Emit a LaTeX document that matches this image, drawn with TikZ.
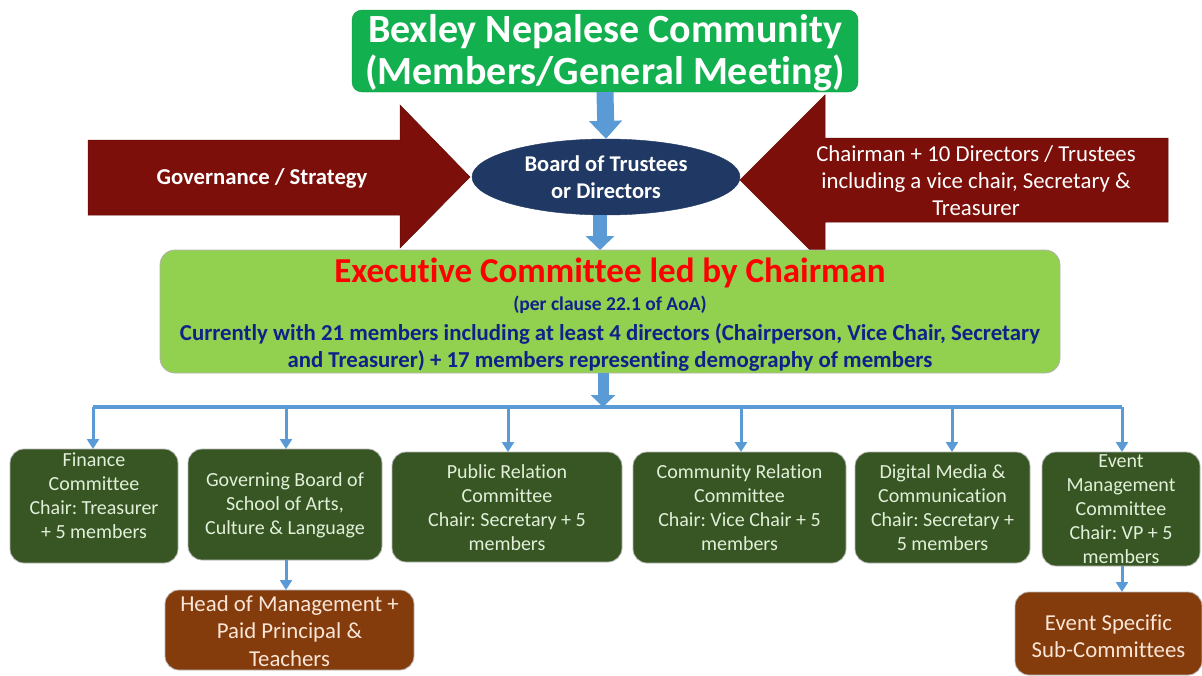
\documentclass[tikz,border=0pt]{standalone}
\usepackage{fontspec}
\setmainfont[Ligatures=NoCommon]{Carlito}
\frenchspacing
\usetikzlibrary{arrows.meta,shapes.geometric}
\definecolor{topgreen}{HTML}{12B04F}
\definecolor{navy}{HTML}{1F3864}
\definecolor{dkred}{HTML}{7C0F0A}
\definecolor{ltgreen}{HTML}{92D050}
\definecolor{dkgreen}{HTML}{375623}
\definecolor{brownbox}{HTML}{843C0C}
\definecolor{arrowblue}{HTML}{5B9BD5}
\definecolor{execblue}{HTML}{10218A}
\definecolor{greentext}{HTML}{E2EFD9}
\definecolor{browntext}{HTML}{FBE5D6}
\begin{document}
\begin{tikzpicture}[x=1pt,y=-1pt,
  boxbase/.style={rectangle, rounded corners=14pt, inner sep=0pt, outer sep=0pt},
  committee/.style={boxbase, fill=dkgreen, draw=gray!55, line width=0.8pt},
  subbox/.style={boxbase, fill=brownbox, draw=gray!55, line width=0.8pt},
  ctext/.style={text=greentext, align=center, inner sep=0pt, font=\fontsize{20}{24}\selectfont},
  stext/.style={text=browntext, align=center, inner sep=0pt, font=\fontsize{22.8}{27.5}\selectfont},
  thinarrow/.style={draw=arrowblue, line width=3pt, -{Triangle[length=10pt,width=12pt]}},
  redarrow/.style={fill=dkred, draw=dkred!80!black, line width=0.5pt}
]
\path[use as bounding box] (0,0) rectangle (1202,675);

% top box
\node[boxbase, rounded corners=10pt, fill=topgreen, draw=topgreen!85!black, minimum width=506pt, minimum height=82pt] (top) at (605,51) {};
\node[text=white, align=center, inner sep=0pt, font=\bfseries\fontsize{40}{42}\selectfont] (toptext) at (605,53)
      {Bexley Nepalese Community\\(Members/General Meeting)};

% big red arrows
\path[redarrow] (88,140) -- (400,140) -- (400,105) -- (470,177) -- (400,248) -- (400,215) -- (88,215) -- cycle;
\node[text=white, font=\bfseries\fontsize{22.7}{27}\selectfont] (gov) at (262,178) {Governance / Strategy};

\path[redarrow] (1168,138) -- (825,138) -- (825,95) -- (740,180) -- (825,265) -- (825,222) -- (1168,222) -- cycle;
\node[text=white, align=center, font=\fontsize{22.8}{27}\selectfont] (chair) at (976,181)
  {Chairman + 10 Directors / Trustees\\including a vice chair, Secretary \&\\Treasurer};

% ellipse
\node[ellipse, fill=navy, draw=navy, minimum width=268pt, minimum height=76pt, inner sep=0pt,
      text=white, align=center, font=\bfseries\fontsize{22.5}{27}\selectfont] (board) at (606,177)
      {Board of Trustees\\or Directors};

% executive box
\node[boxbase, rounded corners=15pt, fill=ltgreen, draw=gray!60, line width=0.8pt, minimum width=900pt, minimum height=123pt] (exec) at (610,311.5) {};
\node[text=red, font=\bfseries\fontsize{35}{38}\selectfont] (exectitle) at (610,273) {Executive Committee led by Chairman};
\node[text=execblue, font=\bfseries\fontsize{19.5}{22}\selectfont] (clause) at (610,305) {(per clause 22.1 of AoA)};
\node[text=execblue, align=center, font=\bfseries\fontsize{22.8}{27}\selectfont] (execbody) at (610,347.5)
  {Currently with 21 members including at least 4 directors (Chairperson, Vice Chair, Secretary\\and Treasurer) + 17 members representing demography of members};

% big blue arrows
\draw[arrowblue, line width=17pt, -{Triangle[length=18pt,width=32pt]}] (top.south) -- (board.north);
\draw[arrowblue, line width=14pt, -{Triangle[length=14pt,width=28pt]}] (board.south -| 600,0) -- (exec.north -| 600,0);

% committees
\node[committee, minimum width=168pt, minimum height=114pt] (c1) at (94,506) {};
\node[committee, minimum width=194pt, minimum height=111pt] (c2) at (285,504.5) {};
\node[committee, minimum width=230pt, minimum height=110pt] (c3) at (507,507) {};
\node[committee, minimum width=213pt, minimum height=111pt] (c4) at (739.5,507.5) {};
\node[committee, minimum width=175pt, minimum height=111pt] (c5) at (942.5,507.5) {};
\node[committee, minimum width=158pt, minimum height=114pt] (c6) at (1121,509) {};

\node[ctext] (t1) at (94,496) {Finance\\Committee\\Chair: Treasurer\\+ 5 members};
\node[ctext] (t2) at (285,505) {Governing Board of\\School of Arts,\\Culture \& Language};
\node[ctext] (t3) at (507,508) {Public Relation\\Committee\\Chair: Secretary + 5\\members};
\node[ctext] (t4) at (739.5,508) {Community Relation\\Committee\\Chair: Vice Chair + 5\\members};
\node[ctext] (t5) at (942.5,508) {Digital Media \&\\Communication\\Chair: Secretary +\\5 members};
\node[ctext] (t6) at (1121,509) {Event\\Management\\Committee\\Chair: VP + 5\\members};

% sub boxes
\node[subbox, minimum width=249pt, minimum height=80pt] (h1) at (289.5,630) {};
\node[stext] (ht1) at (289.5,631) {Head of Management +\\Paid Principal \&\\Teachers};
\node[subbox, minimum width=187pt, minimum height=83pt] (h2) at (1108.5,633.5) {};
\node[stext] (ht2) at (1108.5,636) {Event Specific\\Sub-Committees};

% exec to bus
\coordinate (busmid) at (603,407);
\draw[arrowblue, line width=11pt, -{Triangle[length=12pt,width=24pt]}] (exec.south -| busmid) -- (busmid);
\coordinate (busL) at (93,407);
\coordinate (busR) at (1122,407);
\draw[arrowblue, line width=4pt] (busL) -- (busR);

\coordinate (d1) at (93,407);
\coordinate (d2) at (286,407);
\coordinate (d3) at (508,407);
\coordinate (d4) at (741,407);
\coordinate (d5) at (952,407);
\coordinate (d6) at (1122,407);
\draw[thinarrow] (d1) -- (d1 |- c1.north);
\draw[thinarrow] (d2) -- (d2 |- c2.north);
\draw[thinarrow] (d3) -- (d3 |- c3.north);
\draw[thinarrow] (d4) -- (d4 |- c4.north);
\draw[thinarrow] (d5) -- (d5 |- c5.north);
\draw[thinarrow] (d6) -- (d6 |- c6.north);

\draw[thinarrow] (c2.south -| d2) -- (h1.north -| d2);
\draw[thinarrow] (c6.south -| d6) -- (h2.north -| d6);
\end{tikzpicture}
\end{document}
